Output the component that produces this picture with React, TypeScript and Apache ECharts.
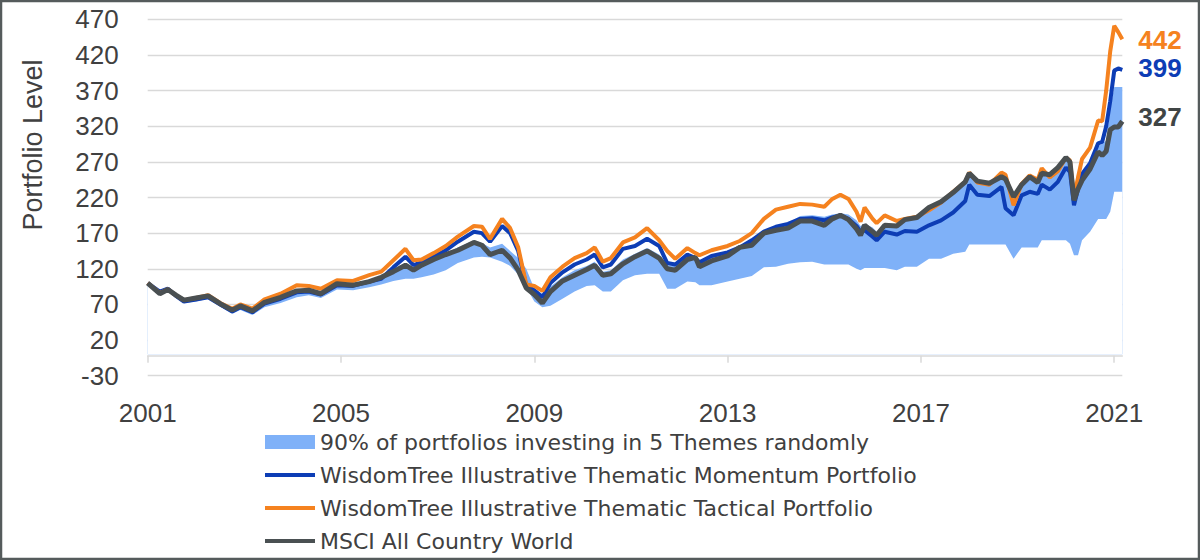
import React, { useEffect, useRef } from 'react';
import * as echarts from 'echarts';

// ---- data ----
const dates = [
  '2001-01', '2001-04', '2001-06', '2001-08', '2001-10',
  '2002-01', '2002-04', '2002-07', '2002-10', '2002-12',
  '2003-03', '2003-06', '2003-10', '2004-02', '2004-05',
  '2004-08', '2004-12', '2005-04', '2005-08', '2005-11',
  '2006-02', '2006-05', '2006-07', '2006-09', '2006-12',
  '2007-03', '2007-06', '2007-10', '2007-12', '2008-02',
  '2008-05', '2008-07', '2008-09', '2008-11', '2009-01',
  '2009-03', '2009-05', '2009-08', '2009-11', '2010-02',
  '2010-04', '2010-06', '2010-08', '2010-11', '2011-02',
  '2011-05', '2011-08', '2011-10', '2011-12', '2012-03',
  '2012-05', '2012-06', '2012-09', '2013-01', '2013-04',
  '2013-07', '2013-10', '2014-01', '2014-04', '2014-07',
  '2014-10', '2015-01', '2015-03', '2015-05', '2015-07',
  '2015-09', '2015-10', '2015-11', '2016-01', '2016-02',
  '2016-04', '2016-07', '2016-09', '2016-12', '2017-03',
  '2017-06', '2017-09', '2017-12', '2018-01', '2018-03',
  '2018-06', '2018-09', '2018-10', '2018-12', '2019-02',
  '2019-04', '2019-06', '2019-07', '2019-09', '2019-11',
  '2020-01', '2020-02', '2020-03', '2020-04', '2020-05',
  '2020-07', '2020-09', '2020-10', '2020-11', '2020-12',
  '2021-01', '2021-02', '2021-03',
];

const msci = [
  100, 85, 91, 83, 76,
  79, 82, 71, 62, 68,
  61, 73, 80, 89, 90,
  85, 99, 97, 102, 108,
  116, 125, 118, 125, 133,
  140, 146, 157, 153, 140,
  146, 135, 118, 93, 84,
  72, 88, 103, 111, 119,
  125, 111, 113, 127, 137,
  145, 135, 120, 118, 133,
  136, 123, 131, 138, 150,
  153, 170, 174, 177, 187,
  187, 181, 190, 195, 189,
  176, 167, 181, 172, 167,
  181, 180, 189, 192, 206,
  214, 227, 242, 254, 243,
  240, 249, 246, 221, 238,
  249, 241, 254, 252, 262,
  276, 270, 216, 232, 244,
  260, 284, 279, 285, 315,
  319, 319, 327,
];

const tactical = [
  100, 86, 91, 83, 76,
  79, 83, 72, 64, 70,
  64, 77, 85, 97, 96,
  92, 104, 103, 111, 116,
  132, 148, 132, 133, 142,
  152, 165, 180, 179, 162,
  190, 177, 150, 98, 96,
  89, 108, 123, 135, 142,
  150, 130, 135, 157, 164,
  177, 160, 145, 134, 149,
  142, 139, 146, 152, 159,
  170, 190, 203, 207, 211,
  210, 207, 218, 224, 218,
  200, 186, 206, 190, 184,
  195, 187, 190, 193, 202,
  213, 228, 242, 255, 241,
  238, 255, 252, 209, 239,
  251, 245, 261, 248, 257,
  276, 272, 221, 248, 274,
  290, 328, 327, 370, 425,
  461, 452, 442,
];

const momentum = [
  100, 88, 92, 82, 74,
  77, 80, 70, 60, 66,
  59, 71, 78, 87, 88,
  84, 97, 96, 102, 106,
  122, 137, 125, 129, 137,
  146, 158, 172, 170, 158,
  180, 170, 145, 96, 90,
  80, 100, 115, 126, 133,
  140, 122, 126, 148, 152,
  162, 152, 128, 126, 140,
  135, 129, 138, 143, 150,
  160, 172, 179, 183, 190,
  191, 188, 192, 195, 190,
  180, 172, 174, 165, 160,
  172, 168, 173, 172, 181,
  188, 199, 215, 238, 224,
  222, 235, 205, 195, 223,
  228, 225, 238, 231, 242,
  262, 256, 209, 232, 253,
  268, 296, 298, 320, 355,
  398, 401, 399,
];

const bandLow = [
  98, 83, 88, 80, 72,
  74, 78, 67, 57, 62,
  55, 66, 72, 80, 83,
  79, 91, 90, 94, 98,
  103, 106, 106, 108, 112,
  118, 128, 136, 137, 136,
  130, 124, 112, 94, 74,
  66, 68, 78, 88, 96,
  97, 88, 88, 104, 111,
  113, 113, 92, 92, 102,
  101, 97, 97, 102, 106,
  110, 122, 123, 127, 129,
  130, 126, 126, 126, 126,
  120, 118, 121, 121, 121,
  121, 118, 123, 123, 134,
  134, 141, 144, 154, 154,
  154, 154, 154, 134, 150,
  150, 150, 160, 160, 160,
  160, 155, 139, 139, 160,
  172, 190, 190, 190, 200,
  228, 228, 228,
];

const bandHigh = [
  101, 90, 93, 85, 78,
  80, 83, 72, 63, 69,
  63, 75, 82, 91, 92,
  88, 100, 99, 104, 110,
  120, 128, 122, 127, 135,
  142, 150, 160, 156, 150,
  155, 145, 135, 120, 92,
  85, 95, 108, 118, 124,
  130, 116, 118, 133, 141,
  149, 140, 125, 124, 137,
  138, 127, 136, 143, 153,
  158, 174, 180, 184, 194,
  195, 193, 196, 198, 196,
  188, 180, 183, 178, 172,
  183, 182, 189, 192, 206,
  214, 227, 242, 252, 245,
  242, 250, 247, 224, 240,
  250, 243, 255, 253, 262,
  275, 270, 220, 235, 250,
  265, 292, 295, 300, 345,
  375, 375, 375,
];

const tickYears = [2001, 2005, 2009, 2013, 2017, 2021];
const yMin = -30;
const yMax = 470;
const yStep = 50;

const BAND = '90% of portfolios investing in 5 Themes randomly';
const MOM = 'WisdomTree Illustrative Thematic Momentum Portfolio';
const TAC = 'WisdomTree Illustrative Thematic Tactical Portfolio';
const MSCI = 'MSCI All Country World';

// ---- helpers ----
const SHIFT = -yMin; // plot values shifted so the axis min is 0
const BASE_YEAR = tickYears[0];
const toMonth = (d: string) => {
  const [y, m] = d.split('-').map(Number);
  return (y - BASE_YEAR) * 12 + (m - 1);
};
const pts = (vals: number[]) => dates.map((d, i) => [toMonth(d), vals[i] + SHIFT]);
const tickMonths = tickYears.map((y) => (y - BASE_YEAR) * 12);
const xMax = toMonth(dates[dates.length - 1]);

const TEXT = '#404040';
const GRID_COLOR = '#d9d9d9';
const BLUE = '#0d3db5';
const ORANGE = '#f5821f';
const GRAY = '#4a5052';
const BAND_COLOR = '#7fb1f8';

const gridLeft = 147.7;
const gridRight = 77.7;

export default function App() {
  const ref = useRef<HTMLDivElement>(null);
  useEffect(() => {
    if (!ref.current) return;
    const chart = echarts.init(ref.current, null, { renderer: 'svg' });
    const endLabel = (color: string, dy: number) => ({
      show: true,
      formatter: (p: any) => String(p.value[1] - SHIFT),
      color,
      fontSize: 26,
      fontWeight: 'bold',
      fontFamily: 'Liberation Sans, Arial, sans-serif',
      distance: 16,
      offset: [0, dy],
    });
    const hiddenSymbol = { opacity: 0 };
    const option: any = {
      animation: false,
      backgroundColor: '#ffffff',
      grid: [
        { left: gridLeft, right: gridRight, top: 19.3, bottom: 184.3 },
        { left: gridLeft, right: gridRight, top: 354.7, bottom: 204.3 },
      ],
      xAxis: [
        {
          type: 'value',
          gridIndex: 0,
          min: 0,
          max: xMax,
          interval: 48,
          axisLine: { show: false },
          axisTick: { show: false },
          splitLine: { show: false },
          axisLabel: {
            color: TEXT,
            fontSize: 26,
            fontFamily: 'Liberation Sans, Arial, sans-serif',
            margin: 24,
            formatter: (v: number) => (v % 48 === 0 ? String(BASE_YEAR + v / 12) : ''),
          },
        },
        {
          type: 'value',
          gridIndex: 1,
          min: 0,
          max: xMax,
          interval: 48,
          z: 10,
          axisLine: { show: true, onZero: false, lineStyle: { color: GRID_COLOR, width: 1.5 } },
          axisTick: {
            show: true,
            length: 7,
            customValues: tickMonths,
            lineStyle: { color: GRID_COLOR, width: 1.5 },
          },
          axisLabel: { show: false },
          splitLine: { show: false },
        },
      ],
      yAxis: [
        {
          type: 'value',
          gridIndex: 0,
          min: 0,
          max: yMax - yMin,
          interval: yStep,
          axisLine: { show: false },
          axisTick: { show: false },
          splitLine: { show: true, lineStyle: { color: GRID_COLOR, width: 1.3 } },
          axisLabel: {
            color: TEXT,
            fontSize: 26,
            fontFamily: 'Liberation Sans, Arial, sans-serif',
            margin: 29,
            formatter: (v: number) => String(v - SHIFT),
          },
        },
        { type: 'value', gridIndex: 1, min: 0, max: 1, show: false },
      ],
      legend: {
        orient: 'vertical',
        left: 263,
        top: 431,
        padding: 0,
        itemWidth: 50,
        itemHeight: 14,
        itemGap: 11,
        selectedMode: false,
        lineStyle: { width: 4 },
        textStyle: { color: TEXT, fontSize: 22, lineHeight: 22, fontFamily: 'DejaVu Sans, sans-serif' },
        data: [
          { name: BAND, icon: 'rect', itemStyle: { color: BAND_COLOR } },
          { name: MOM, itemStyle: hiddenSymbol },
          { name: TAC, itemStyle: hiddenSymbol },
          { name: MSCI, itemStyle: hiddenSymbol },
        ],
      },
      graphic: [
        {
          type: 'text',
          x: 33,
          y: 145,
          rotation: Math.PI / 2,
          style: {
            text: 'Portfolio Level',
            fill: TEXT,
            fontSize: 27,
            fontFamily: 'Liberation Sans, Arial, sans-serif',
            textAlign: 'center',
            textVerticalAlign: 'middle',
          },
        },
        {
          type: 'rect',
          shape: { x: 1, y: 1, width: 1198, height: 558 },
          style: { fill: 'none', stroke: '#555b5c', lineWidth: 2.5 },
          silent: true,
          z: 100,
        },
      ],
      series: [
        {
          name: BAND,
          type: 'line',
          data: pts(bandHigh),
          color: BAND_COLOR,
          symbol: 'none',
          lineStyle: { width: 0 },
          areaStyle: { color: BAND_COLOR, opacity: 1, origin: SHIFT },
          z: 1,
          silent: true,
        },
        {
          name: 'band-floor',
          type: 'line',
          data: pts(bandLow),
          color: '#ffffff',
          symbol: 'none',
          lineStyle: { width: 0 },
          areaStyle: { color: '#ffffff', opacity: 1, origin: SHIFT },
          z: 1,
          silent: true,
        },
        {
          name: MOM,
          type: 'line',
          data: pts(momentum),
          color: BLUE,
          symbol: 'none',
          lineStyle: { width: 4, color: BLUE },
          endLabel: endLabel(BLUE, -2),
          z: 3,
        },
        {
          name: TAC,
          type: 'line',
          data: pts(tactical),
          color: ORANGE,
          symbol: 'none',
          lineStyle: { width: 4, color: ORANGE },
          endLabel: endLabel(ORANGE, 1),
          z: 4,
        },
        {
          name: MSCI,
          type: 'line',
          data: pts(msci),
          color: GRAY,
          symbol: 'none',
          lineStyle: { width: 5, color: GRAY },
          endLabel: endLabel('#404545', -4),
          z: 5,
        },
      ],
    };
    chart.setOption(option);
    return () => chart.dispose();
  }, []);
  return (
    <div
      ref={ref}
      style={{ position: 'fixed', left: 0, top: 0, width: 1200, height: 560, background: '#ffffff' }}
    />
  );
}
